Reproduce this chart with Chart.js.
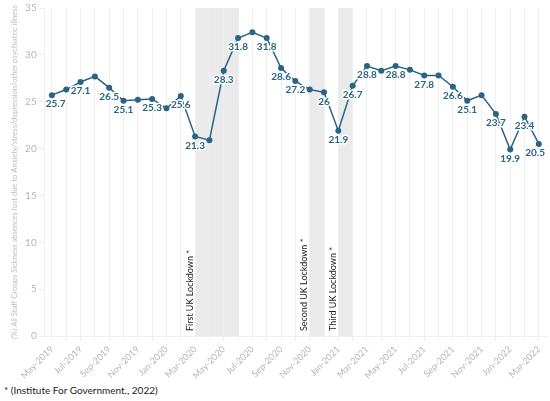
<!DOCTYPE html>
<html>
<head>
<meta charset="utf-8">
<script src="https://cdn.jsdelivr.net/npm/chart.js@4"></script>
<style>
  body { margin: 0; background: #fff; font-family: Lato, sans-serif; }
  #wrap { position: relative; width: 550px; height: 384px; }
  #note { position: absolute; left: 4px; top: 384px; font-size: 10px; color: #222; }
</style>
</head>
<body>
<div id="wrap"><canvas id="chart"></canvas></div>
<div id="note">* (Institute For Government., 2022)</div>
<script>
const months = [
  'May-2019', 'Jun-2019', 'Jul-2019', 'Aug-2019', 'Sep-2019', 'Oct-2019', 'Nov-2019', 'Dec-2019',
  'Jan-2020', 'Feb-2020', 'Mar-2020', 'Apr-2020', 'May-2020', 'Jun-2020', 'Jul-2020', 'Aug-2020',
  'Sep-2020', 'Oct-2020', 'Nov-2020', 'Dec-2020', 'Jan-2021', 'Feb-2021', 'Mar-2021', 'Apr-2021',
  'May-2021', 'Jun-2021', 'Jul-2021', 'Aug-2021', 'Sep-2021', 'Oct-2021', 'Nov-2021', 'Dec-2021',
  'Jan-2022', 'Feb-2022', 'Mar-2022'
];
const absence = [
  25.7, 26.3, 27.1, 27.7, 26.5, 25.1, 25.2, 25.3,
  24.3, 25.6, 21.3, 20.9, 28.3, 31.8, 32.4, 31.8,
  28.6, 27.2, 26.3, 26.0, 21.9, 26.7, 28.8, 28.3,
  28.8, 28.4, 27.8, 27.8, 26.6, 25.1, 25.7, 23.7,
  19.9, 23.4, 20.5
];
// which points carry a value label
const labelled = [0, 2, 4, 5, 7, 9, 10, 12, 13, 15, 16, 17, 19, 20, 21, 22, 24, 26, 28, 29, 31, 32, 33, 34];

const lockStart = ['Mar-2020', 'Nov-2020', 'Jan-2021'];
const lockEnd = ['Jun-2020', 'Dec-2020', 'Feb-2021'];
const lockNames = ['First UK Lockdown *', 'Second UK Lockdown *', 'Third UK Lockdown *'];

const lineColor = '#2b6384';

const lockdownBands = {
  id: 'lockdownBands',
  beforeDraw(chart) {
    const { ctx, chartArea, scales } = chart;
    ctx.save();
    for (let i = 0; i < lockStart.length; i++) {
      const x0 = scales.x.getPixelForValue(months.indexOf(lockStart[i]));
      const x1 = scales.x.getPixelForValue(months.indexOf(lockEnd[i]));
      ctx.fillStyle = '#eaeaea';
      ctx.fillRect(x0, chartArea.top, x1 - x0, chartArea.bottom - chartArea.top);
    }
    ctx.restore();
  },
  afterDatasetsDraw(chart) {
    const { ctx, chartArea, scales } = chart;
    ctx.save();
    ctx.font = '9px Lato';
    ctx.fillStyle = '#222';
    ctx.textAlign = 'left';
    ctx.textBaseline = 'bottom';
    for (let i = 0; i < lockStart.length; i++) {
      const x0 = scales.x.getPixelForValue(months.indexOf(lockStart[i]));
      ctx.save();
      ctx.translate(x0 - 1, chartArea.bottom - 5);
      ctx.rotate(-Math.PI / 2);
      ctx.fillText(lockNames[i], 0, 0);
      ctx.restore();
    }
    ctx.restore();
  }
};

const valueLabels = {
  id: 'valueLabels',
  afterDatasetsDraw(chart) {
    const { ctx, chartArea } = chart;
    const meta = chart.getDatasetMeta(0);
    ctx.save();
    ctx.font = 'bold 10px Lato';
    ctx.textAlign = 'center';
    ctx.textBaseline = 'middle';
    ctx.lineJoin = 'round';
    ctx.lineWidth = 3;
    ctx.strokeStyle = '#fff';
    ctx.fillStyle = lineColor;
    labelled.forEach(i => {
      const pt = meta.data[i];
      const text = String(absence[i]).replace(/\.0$/, '');
      const w = ctx.measureText(text).width;
      let x = pt.x;
      x = Math.max(chartArea.left + w / 2 + 1, Math.min(chartArea.right - w / 2 - 1, x));
      ctx.strokeText(text, x, pt.y + 9);
      ctx.fillText(text, x, pt.y + 9);
    });
    ctx.restore();
  }
};

new Chart(document.getElementById('chart'), {
  type: 'line',
  data: {
    labels: months,
    datasets: [{
      data: absence,
      borderColor: lineColor,
      backgroundColor: lineColor,
      borderWidth: 1.5,
      pointRadius: 3,
      pointBorderWidth: 0,
      tension: 0,
      fill: false
    }]
  },
  options: {
    responsive: true,
    maintainAspectRatio: false,
    animation: false,
    layout: { padding: { left: 10, right: 2, top: 2 } },
    plugins: {
      legend: { display: false },
      tooltip: { enabled: false }
    },
    scales: {
      x: {
        offset: true,
        grid: { offset: false, color: '#efefef', tickLength: 5 },
        border: { color: '#eeeeee' },
        ticks: {
          autoSkip: false,
          maxRotation: 45,
          minRotation: 45,
          color: '#b5b5b5',
          font: { family: 'Lato', size: 9 },
          callback: function (val, i) { return i % 2 === 0 ? months[i] : ''; }
        }
      },
      y: {
        min: 0,
        max: 35,
        grid: { drawOnChartArea: false, color: '#eeeeee', tickLength: 6 },
        border: { display: true, color: '#eeeeee' },
        ticks: {
          stepSize: 5,
          padding: 2,
          color: '#b5b5b5',
          font: { family: 'Lato', size: 10 }
        },
        title: {
          display: true,
          text: '(%) All Staff Groups Sickness absences lost due to Anxiety/stress/depression/other psychiatric illness',
          color: '#bdbdbd',
          font: { family: 'Lato', size: 7.6 },
          padding: { top: 0, bottom: 4 }
        }
      }
    }
  },
  plugins: [lockdownBands, valueLabels]
});
</script>
</body>
</html>
